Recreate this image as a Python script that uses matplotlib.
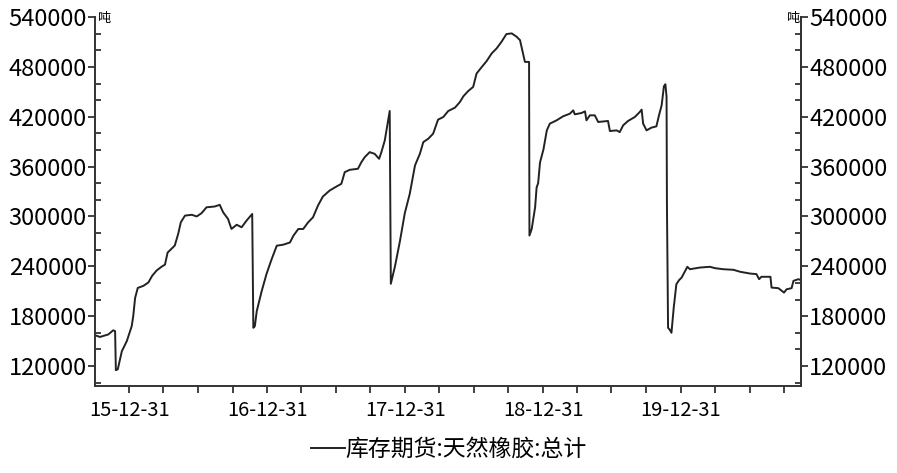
import pandas as pd
import matplotlib
matplotlib.use('Agg')
import matplotlib.pyplot as plt
import matplotlib.dates as mdates
from matplotlib.ticker import MultipleLocator, FixedLocator

plt.rcParams['font.family'] = ['Noto Sans CJK SC', 'DejaVu Sans']

# 库存期货:天然橡胶:总计 (吨)
dates = [
    '2015-10-02', '2015-10-15', '2015-11-06', '2015-11-19', '2015-11-24',
    '2015-11-26', '2015-12-01', '2015-12-12', '2015-12-25', '2016-01-07',
    '2016-01-11', '2016-01-16', '2016-01-23', '2016-02-07', '2016-02-20',
    '2016-03-01', '2016-03-13', '2016-03-26', '2016-04-04', '2016-04-11',
    '2016-04-30', '2016-05-09', '2016-05-16', '2016-05-27', '2016-06-14',
    '2016-06-27', '2016-07-10', '2016-07-23', '2016-08-14', '2016-08-27',
    '2016-09-05', '2016-09-18', '2016-09-27', '2016-10-11', '2016-10-24',
    '2016-11-06', '2016-11-17', '2016-11-21', '2016-11-24', '2016-11-28',
    '2016-12-03', '2016-12-16', '2016-12-29', '2017-01-11', '2017-01-25',
    '2017-02-11', '2017-03-01', '2017-03-10', '2017-03-23', '2017-04-05',
    '2017-04-18', '2017-05-01', '2017-05-14', '2017-05-27', '2017-06-14',
    '2017-07-02', '2017-07-15', '2017-07-24', '2017-08-06', '2017-08-28',
    '2017-09-06', '2017-09-15', '2017-09-28', '2017-10-11', '2017-10-23',
    '2017-10-29', '2017-11-07', '2017-11-16', '2017-11-20', '2017-11-23',
    '2017-12-04', '2017-12-17', '2017-12-30', '2018-01-12', '2018-01-26',
    '2018-02-08', '2018-02-17', '2018-03-02', '2018-03-15', '2018-03-28',
    '2018-04-11', '2018-04-24', '2018-05-12', '2018-05-25', '2018-06-03',
    '2018-06-16', '2018-06-29', '2018-07-08', '2018-07-22', '2018-08-04',
    '2018-08-17', '2018-08-30', '2018-09-12', '2018-09-25', '2018-10-09',
    '2018-10-22', '2018-10-31', '2018-11-06', '2018-11-13', '2018-11-24',
    '2018-11-25', '2018-12-01', '2018-12-10', '2018-12-14', '2018-12-18',
    '2018-12-23', '2019-01-01', '2019-01-10', '2019-01-18', '2019-02-05',
    '2019-02-22', '2019-03-12', '2019-03-21', '2019-03-25', '2019-04-12',
    '2019-04-21', '2019-04-25', '2019-05-04', '2019-05-17', '2019-05-26',
    '2019-06-21', '2019-06-26', '2019-07-14', '2019-07-22', '2019-07-31',
    '2019-08-13', '2019-08-31', '2019-09-13', '2019-09-18', '2019-09-22',
    '2019-10-01', '2019-10-14', '2019-10-27', '2019-11-03', '2019-11-10',
    '2019-11-16', '2019-11-20', '2019-11-23', '2019-11-24', '2019-11-27',
    '2019-12-01', '2019-12-06', '2019-12-12', '2019-12-19', '2019-12-26',
    '2020-01-02', '2020-01-17', '2020-01-24', '2020-02-19', '2020-03-17',
    '2020-03-30', '2020-04-21', '2020-05-18', '2020-06-05', '2020-07-01',
    '2020-07-18', '2020-07-25', '2020-07-31', '2020-08-13', '2020-08-24',
    '2020-08-27', '2020-09-14', '2020-09-29', '2020-10-06', '2020-10-19',
    '2020-10-24', '2020-11-06', '2020-11-13',
]
values = [
    157000, 155000, 158000, 163000, 162000,
    115000, 116000, 138000, 150000, 168000,
    180000, 202000, 214000, 216500, 220500,
    228500, 235000, 239500, 242000, 256500,
    265000, 279000, 293000, 301000, 302000,
    300000, 304000, 311000, 312000, 314000,
    305000, 297000, 285000, 290000, 287000,
    295000, 301000, 303000, 166000, 168000,
    186000, 210000, 231000, 248000, 264800,
    266000, 268700, 276800, 284900, 284900,
    292900, 299000, 313000, 323900, 331200,
    336000, 339300, 353300, 356100, 357400,
    365300, 371400, 377400, 375400, 369400,
    377400, 391500, 415600, 426900, 219000,
    240000, 270000, 304000, 327000, 361400,
    375500, 389500, 393500, 399600, 416500,
    419700, 426900, 431000, 437800, 444600,
    451000, 455900, 472000, 480000, 487200,
    496200, 502200, 510200, 519500, 520300,
    516300, 512200, 500200, 486000, 486000,
    277000, 285000, 311000, 335000, 340000,
    365000, 380500, 403600, 411700, 415700,
    420500, 423700, 427700, 422900, 424500,
    426500, 415700, 421700, 421700, 413700,
    414900, 402800, 403600, 401500, 409600,
    414900, 419700, 425700, 428600, 411700,
    403600, 406900, 408400, 421700, 433800,
    456700, 459100, 443800, 315000, 166000,
    164000, 160000, 190300, 218500, 223300,
    226500, 239400, 236500, 238500, 239400,
    237800, 236500, 235800, 233400, 231300,
    230600, 224500, 227400, 227400, 227400,
    214400, 213700, 208400, 212400, 213700,
    222500, 224500, 223300,
]
series_name = '库存期货:天然橡胶:总计'
unit = '吨'
y_ticks = list(range(120000, 540001, 60000))

x = pd.to_datetime(dates)

fig = plt.figure(figsize=(8.97, 4.73), dpi=100)
ax = fig.add_axes([0.106, 0.184, 0.787, 0.780])
ax.plot(x, values, color='#222222', lw=1.4, label=series_name)

ax.set_xlim(x[0], x[-1])
ax.set_ylim(96000, 540000)

ax.spines['top'].set_visible(False)
for s in ['left', 'right', 'bottom']:
    ax.spines[s].set_linewidth(1.4)
    ax.spines[s].set_color('#333333')

# x ticks: year ends labelled, quarter ends minor
major_x = pd.date_range('2015-12-31', '2019-12-31', freq='YE')
minor_x = pd.date_range(x[0], x[-1], freq='QE')
ax.xaxis.set_major_locator(FixedLocator(mdates.date2num(major_x)))
ax.xaxis.set_minor_locator(FixedLocator(mdates.date2num(minor_x)))
ax.xaxis.set_major_formatter(mdates.DateFormatter('%y-%m-%d'))
ax.tick_params(axis='x', which='both', direction='out', length=5, width=1.3,
               color='#333333', labelsize=14.5, pad=5)

ax.set_yticks(y_ticks)
ax.yaxis.set_minor_locator(MultipleLocator(20000))
ax.tick_params(axis='y', which='major', direction='out', length=5, width=1.3,
               color='#333333', labelsize=17, pad=1)
ax.tick_params(axis='y', which='minor', direction='in', length=4, width=1.3,
               color='#333333')

ax2 = ax.twinx()
ax2.set_ylim(ax.get_ylim())
ax2.set_yticks(y_ticks)
ax2.yaxis.set_minor_locator(MultipleLocator(20000))
for s in ['top', 'left', 'bottom']:
    ax2.spines[s].set_visible(False)
ax2.spines['right'].set_linewidth(1.4)
ax2.spines['right'].set_color('#333333')
ax2.tick_params(axis='y', which='major', direction='out', length=5, width=1.3,
                color='#333333', labelsize=17, pad=1)
ax2.tick_params(axis='y', which='minor', direction='in', length=4, width=1.3,
                color='#333333')

ax.text(0.003, 0.995, unit, transform=ax.transAxes, fontsize=9.5,
        ha='left', va='center')
ax.text(0.997, 0.995, unit, transform=ax.transAxes, fontsize=9.5,
        ha='right', va='center')

fig.legend(loc='center', bbox_to_anchor=(0.5, 0.05), frameon=False,
           fontsize=16.5, handlelength=1.5, handletextpad=0.0)

fig.savefig('out.png', dpi=100)
